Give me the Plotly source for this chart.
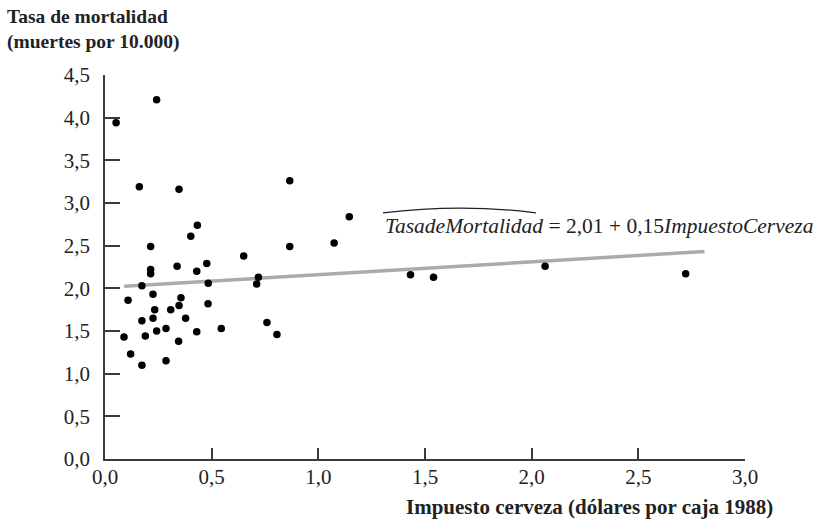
import plotly.graph_objects as go

# Beer tax (1988 dollars per case) and traffic fatality rate (deaths per 10,000)
impuesto_cerveza = [
    0.052, 0.242, 0.161, 0.347, 0.866, 0.433, 0.402, 0.214, 0.866, 0.650,
    0.338, 0.214, 0.214, 0.430, 0.477, 0.484, 0.719, 0.711, 0.173, 0.225,
    0.108, 0.356, 0.347, 0.483, 0.233, 0.308, 0.173, 0.225, 0.378, 0.242,
    0.286, 0.430, 0.545, 0.759, 0.806, 0.089, 0.189, 0.345, 0.120, 0.173,
    0.286, 1.145, 1.074, 1.432, 1.540, 2.063, 2.722,
]
tasa_mortalidad = [
    3.94, 4.21, 3.19, 3.16, 3.26, 2.74, 2.61, 2.49, 2.49, 2.38,
    2.26, 2.22, 2.17, 2.20, 2.29, 2.06, 2.13, 2.05, 2.03, 1.93,
    1.86, 1.89, 1.80, 1.82, 1.75, 1.75, 1.62, 1.65, 1.65, 1.50,
    1.53, 1.49, 1.53, 1.60, 1.46, 1.43, 1.44, 1.38, 1.23, 1.10,
    1.15, 2.84, 2.53, 2.16, 2.13, 2.26, 2.17,
]

# OLS fit: TasadeMortalidad = 2,01 + 0,15 ImpuestoCerveza
intercepto = 2.01
pendiente = 0.15
recta_x = [0.09, 2.81]
recta_y = [intercepto + pendiente * v for v in recta_x]

x_ticks = [0.0, 0.5, 1.0, 1.5, 2.0, 2.5, 3.0]
y_ticks = [0.0, 0.5, 1.0, 1.5, 2.0, 2.5, 3.0, 3.5, 4.0, 4.5]


def coma(v):
    return f"{v:.1f}".replace(".", ",")


serif = "Liberation Serif"

fig = go.Figure()
fig.add_trace(go.Scatter(
    x=recta_x, y=recta_y, mode="lines",
    line=dict(color="#ababab", width=3.5),
    hoverinfo="skip", showlegend=False,
))
fig.add_trace(go.Scatter(
    x=impuesto_cerveza, y=tasa_mortalidad, mode="markers",
    marker=dict(color="black", size=7.5),
    showlegend=False,
))

axis_common = dict(
    showline=True, linecolor="#3a3a3a", linewidth=1.5,
    ticks="inside", tickcolor="#3a3a3a", tickwidth=1.5,
    showgrid=False, zeroline=False,
    tickfont=dict(family=serif, size=21, color="#222"),
)
fig.update_xaxes(
    range=[0, 3], tickvals=x_ticks, ticktext=[coma(v) for v in x_ticks],
    ticklen=11, ticklabelstandoff=-2, **axis_common,
)
fig.update_yaxes(
    range=[0, 4.5], tickvals=y_ticks, ticktext=[coma(v) for v in y_ticks],
    ticklen=15, ticklabelstandoff=9, **axis_common,
)

# Hat over the fitted variable name
eq_x0 = 1.303
fig.add_shape(
    type="path",
    path=f"M {eq_x0},2.885 Q 1.67,2.995 2.02,2.885",
    xref="x", yref="y",
    line=dict(color="#222", width=1.2),
)

fig.add_annotation(
    x=eq_x0, y=2.73, xref="x", yref="y", xanchor="left", yanchor="middle",
    text="<i>TasadeMortalidad</i> = 2,01 + 0,15<i>ImpuestoCerveza</i>",
    showarrow=False, font=dict(family=serif, size=21.5, color="#222"),
)
fig.add_annotation(
    x=-0.156, y=1.184, xref="paper", yref="paper",
    xanchor="left", yanchor="top", align="left",
    text="<b>Tasa de mortalidad<br>(muertes por 10.000)</b>",
    showarrow=False, font=dict(family=serif, size=19.5, color="#222"),
)
fig.add_annotation(
    x=1.047, y=-0.125, xref="paper", yref="paper",
    xanchor="right", yanchor="middle",
    text="<b>Impuesto cerveza (dólares por caja 1988)</b>",
    showarrow=False, font=dict(family=serif, size=21, color="#222"),
)

fig.update_layout(
    width=831, height=525, autosize=False,
    margin=dict(l=105, r=86, t=75, b=66),
    paper_bgcolor="white", plot_bgcolor="white",
)

fig.write_html("out.html")
